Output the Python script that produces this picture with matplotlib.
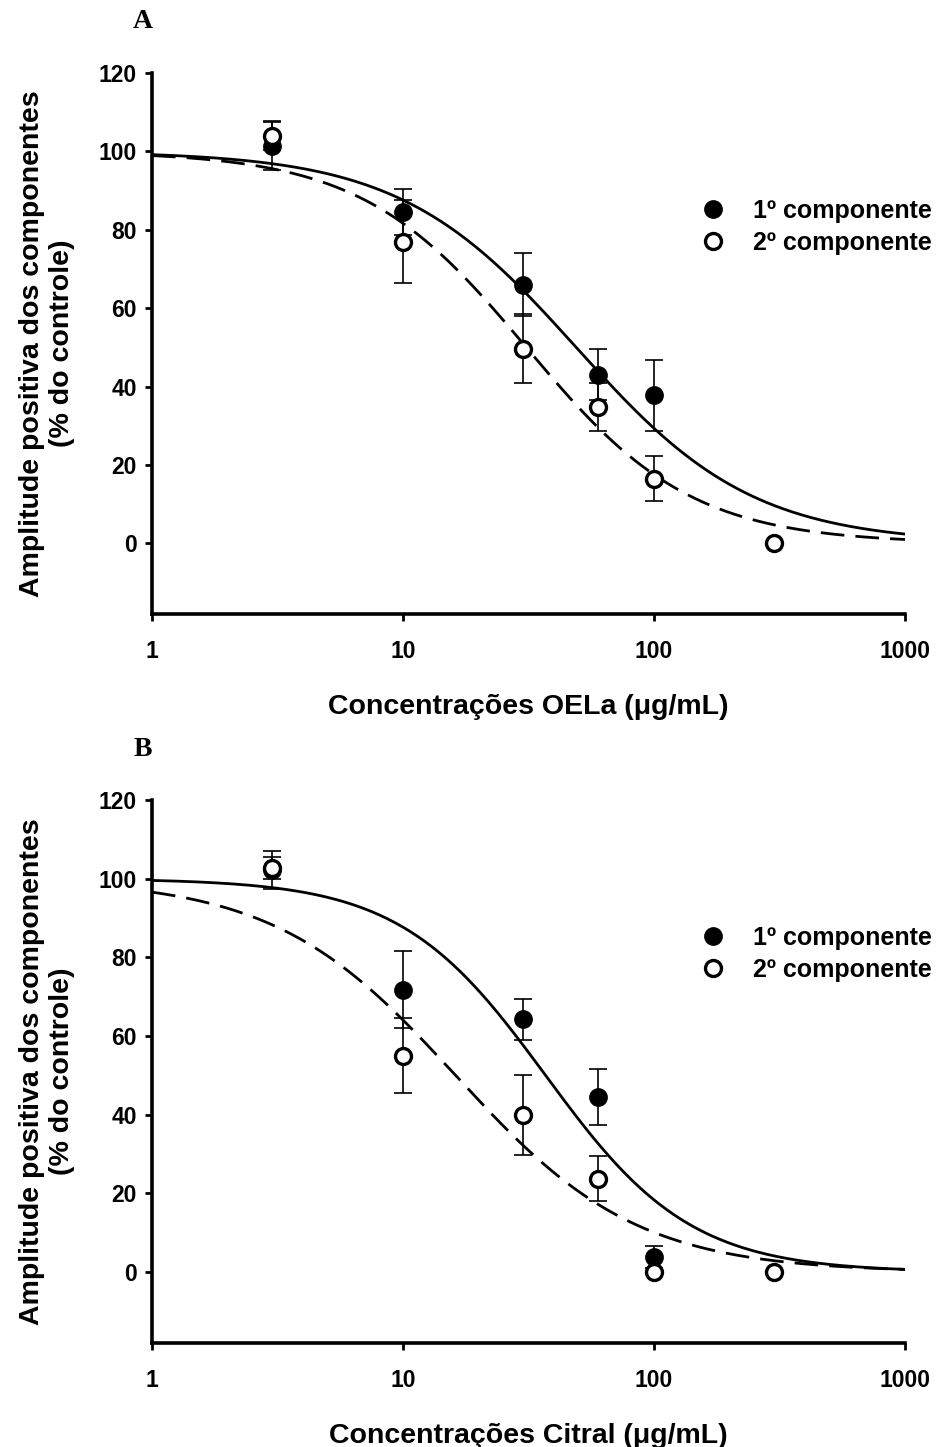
import numpy as np
import matplotlib
matplotlib.use("Agg")
import matplotlib.pyplot as plt
from matplotlib.lines import Line2D

plt.rcParams['font.family'] = ['Liberation Sans', 'DejaVu Sans']
plt.rcParams['font.weight'] = 'bold'
plt.rcParams['lines.scale_dashes'] = False

# ---------------- data ----------------
conc = [3, 10, 30, 60, 100, 300]

# Panel A (OELa)
a_first = [101.5, 84.5, 66.0, 43.0, 37.8]
a_first_err = [6.3, 5.8, 8.0, 6.5, 9.0]
a_second = [104.0, 77.0, 49.7, 34.8, 16.5, 0.0]
a_second_err = [3.6, 10.5, 8.9, 6.0, 5.8, 0.0]

# Panel B (Citral)
b_first = [102.3, 71.8, 64.3, 44.5, 3.8]
b_first_err = [4.8, 9.8, 5.2, 7.2, 2.8]
b_second = [102.8, 55.0, 40.0, 23.7, 0.0, 0.0]
b_second_err = [2.8, 9.5, 10.2, 5.7, 0.0, 0.0]

# fitted dose-response curves: [top, IC50, hill]
a_first_fit = [100.0, 49.0, 1.23]
a_second_fit = [100.0, 31.0, 1.32]
b_first_fit = [100.0, 37.0, 1.5]
b_second_fit = [100.0, 16.2, 1.2]

xticks = [1, 10, 100, 1000]
xtick_labels = ['1', '10', '100', '1000']
yticks = [0, 20, 40, 60, 80, 100, 120]
legend_labels = ['1º componente', '2º componente']
ylabel = 'Amplitude positiva dos componentes\n(% do controle)'
xlabels = ['Concentrações OELa (μg/mL)', 'Concentrações Citral (μg/mL)']
panel_letters = ['A', 'B']


def logistic(x, p):
    top, ic50, h = p
    return top / (1.0 + (x / ic50) ** h)


fig = plt.figure(figsize=(9.38, 14.47), dpi=100)
W, H = 938.0, 1447.0
ax_a = fig.add_axes([152 / W, (H - 614) / H, (905 - 152) / W, (614 - 73) / H])
ax_b = fig.add_axes([152 / W, (H - 1343) / H, (905 - 152) / W, (1343 - 800) / H])

panels = [
    (ax_a, a_first, a_first_err, a_second, a_second_err, a_first_fit, a_second_fit, 0),
    (ax_b, b_first, b_first_err, b_second, b_second_err, b_first_fit, b_second_fit, 1),
]

xs = np.logspace(0, 3, 400)
for ax, f1, e1, f2, e2, p1, p2, i in panels:
    ax.set_xscale('log')
    ax.set_xlim(1, 1000)
    ax.set_ylim(-18, 120)

    ax.plot(xs, logistic(xs, p1), color='black', lw=2.0, zorder=2)
    ax.plot(xs, logistic(xs, p2), color='black', lw=2.0, dashes=(17, 8), zorder=2)

    # error bars
    ax.errorbar(conc[:len(f2)], f2, yerr=e2, fmt='none', ecolor='black',
                elinewidth=1.2, capsize=6.5, capthick=1.2, zorder=3)
    ax.errorbar(conc[:len(f1)], f1, yerr=e1, fmt='none', ecolor='black',
                elinewidth=1.2, capsize=6.5, capthick=1.2, zorder=3)
    ax.plot(conc[:len(f1)], f1, 'o', ms=12.5, mfc='black', mec='black', zorder=4)
    ax.plot(conc[:len(f2)], f2, 'o', ms=11.5, mfc='white', mec='black', mew=2.4, zorder=5)

    for s in ['top', 'right']:
        ax.spines[s].set_visible(False)
    for s in ['left', 'bottom']:
        ax.spines[s].set_linewidth(2.6)
    ax.set_xticks(xticks)
    ax.set_xticklabels(xtick_labels)
    ax.xaxis.set_minor_locator(matplotlib.ticker.NullLocator())
    ax.set_yticks(yticks)
    ax.tick_params(axis='both', which='major', labelsize=16.5, width=2, length=5, pad=6)
    ax.tick_params(axis='x', pad=14)
    for lab in ax.get_xticklabels() + ax.get_yticklabels():
        lab.set_fontweight('bold')

    ax.set_ylabel(ylabel, fontsize=20.5, fontweight='bold', labelpad=17, linespacing=1.2)
    ax.set_xlabel(xlabels[i], fontsize=20.5, fontweight='bold', labelpad=22)

    handles = [
        Line2D([], [], ls='none', marker='o', ms=12.5, mfc='black', mec='black'),
        Line2D([], [], ls='none', marker='o', ms=11.5, mfc='white', mec='black', mew=2.4),
    ]
    leg = ax.legend(handles, legend_labels, loc='center left', bbox_to_anchor=(0.729, 0.716),
                    frameon=False, fontsize=18, handletextpad=1.1, borderpad=0,
                    labelspacing=0.32, borderaxespad=0, handlelength=1.0)
    for t in leg.get_texts():
        t.set_fontweight('bold')

fig.text(143 / W, 1 - 22 / H, 'A', fontsize=20, fontweight='bold',
         family=['Liberation Serif', 'DejaVu Serif'], ha='center', va='center')
fig.text(143 / W, 1 - 749 / H, 'B', fontsize=20, fontweight='bold',
         family=['Liberation Serif', 'DejaVu Serif'], ha='center', va='center')

fig.savefig('out.png', dpi=100)
